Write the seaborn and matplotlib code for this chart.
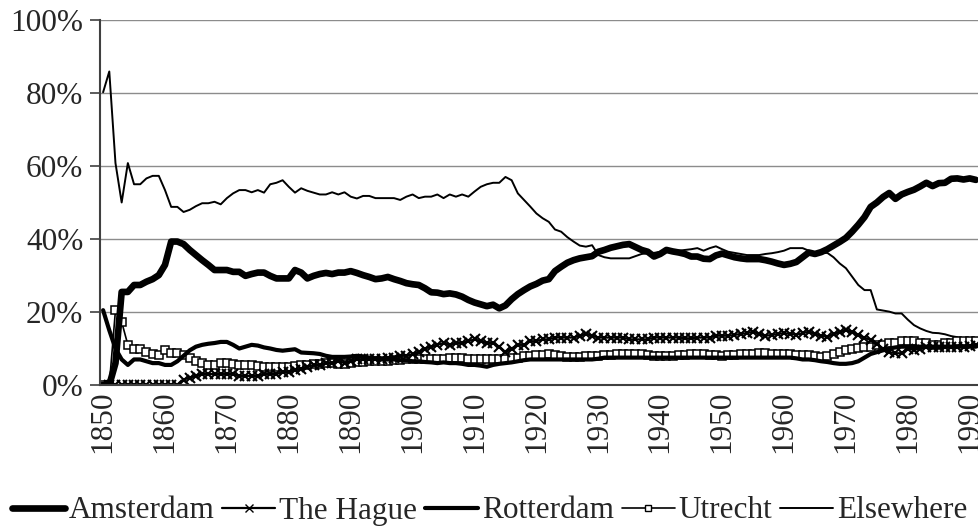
import numpy as np
import pandas as pd
import matplotlib
matplotlib.use("Agg")
import matplotlib.pyplot as plt
import seaborn as sns
from matplotlib.lines import Line2D

years = list(range(1850, 1992))

amsterdam = [0, 0, 6, 25.5, 25.5, 27.4, 27.4, 28.3, 29, 30.1,
             32.9, 39.3, 39.3, 38.6, 37, 35.6, 34.2, 32.9, 31.5, 31.5,
             31.5, 31, 31, 29.9, 30.4, 30.8, 30.8, 29.9, 29.2, 29.2,
             29.2, 31.5, 30.8, 29.2, 29.9, 30.4, 30.7, 30.4, 30.8, 30.8,
             31.2, 30.7, 30.1, 29.6, 29.0, 29.2, 29.6, 29.0, 28.5, 27.9,
             27.6, 27.4, 26.5, 25.4, 25.3, 24.9, 25.1, 24.8, 24.2, 23.3,
             22.6, 22.1, 21.6, 22.0, 21.0, 21.8, 23.5, 24.9, 26.0, 27.0,
             27.7, 28.6, 29.0, 31.2, 32.4, 33.5, 34.2, 34.7, 35.0, 35.3,
             36.5, 37.0, 37.6, 38.0, 38.4, 38.6, 37.8, 37.0, 36.5, 35.2,
             35.9, 37.0, 36.6, 36.3, 35.9, 35.2, 35.2, 34.6, 34.5, 35.5,
             36.0, 35.5, 35.0, 34.7, 34.5, 34.5, 34.5, 34.2, 33.8, 33.3,
             32.9, 33.2, 33.7, 35.0, 36.3, 35.9, 36.4, 37.2, 38.2, 39.2,
             40.3, 42.0, 43.9, 46.0, 48.8, 50.0, 51.5, 52.6, 51.0, 52.2,
             52.9, 53.5, 54.4, 55.4, 54.5, 55.3, 55.4, 56.5, 56.6, 56.3,
             56.6, 56.2]

the_hague = [0] * 13 + [
    1.5, 2, 2.5, 3, 3, 3, 3,
    3, 3, 2.5, 2.5, 2.5, 2.5, 3, 3, 3, 3.5,
    3.5, 4, 4.5, 5, 5.5, 5.5, 6, 6, 6.5, 6,
    6.5, 7, 7, 7, 7, 7, 7.5, 7.5, 8, 8,
    8.5, 9, 10, 10.5, 11, 11.5, 11, 11.5, 11.5, 12,
    12.5, 12, 11.5, 11.5, 10.5, 9, 10, 11, 11, 12,
    12, 12.5, 12.5, 13, 13, 13, 13, 13.5, 14, 13.5,
    13, 13, 13, 13, 13, 12.5, 12.5, 12.5, 12.5, 13,
    13, 13, 13, 13, 12.8, 12.8, 13, 13, 13, 13.5,
    13.5, 13.5, 13.7, 14, 14.2, 14.6, 14, 13.5, 13.7, 14,
    14.2, 14, 13.8, 14.2, 14.6, 14, 13.5, 13.2, 14, 14.5,
    15, 14.5, 13.7, 13, 12.3, 11.2, 10, 9, 8.7, 8.7,
    10, 9.6, 10, 10.3, 10.5, 10.5, 10.5, 10.5, 10.5, 10.5,
    10.7, 11]

rotterdam = [20.5, 15, 10, 7, 5.5, 7, 7, 6.5, 6, 6,
             5.5, 5.5, 6.5, 8, 9.5, 10.5, 11, 11.3, 11.5, 11.8,
             11.8, 11, 10, 10.5, 11, 10.8, 10.3, 10, 9.6, 9.4,
             9.6, 9.8, 8.9, 8.8, 8.7, 8.5, 8, 7.7, 7.7, 7.7,
             7.8, 8, 7.8, 7.5, 7.3, 7, 7, 7, 6.8, 6.8,
             6.5, 6.5, 6.3, 6.2, 6, 6.2, 6, 6, 5.8, 5.5,
             5.5, 5.3, 5, 5.5, 5.8, 6, 6.2, 6.5, 6.8, 7,
             7, 7, 7, 7, 7, 7, 7, 7, 7, 7,
             7.2, 7.5, 7.5, 7.5, 7.5, 7.5, 7.5, 7.5, 7.5, 7.5,
             7.5, 7.5, 7.5, 7.5, 7.5, 7.5, 7.5, 7.5, 7.5, 7.5,
             7.5, 7.5, 7.5, 7.5, 7.5, 7.5, 7.5, 7.5, 7.5, 7.5,
             7.5, 7.5, 7.3, 7, 7, 6.8, 6.5, 6.3, 6, 5.8,
             5.8, 6, 6.5, 7.5, 8.5, 9, 9.5, 10, 10.3, 10.5,
             10.5, 10.5, 10.5, 10.5, 10.5, 10.5, 10.5, 10.5, 10.5, 10.5,
             10.5, 10.5]

utrecht = [0, 0, 20.5, 17.3, 11, 10, 9.8, 9, 8.5, 8.2,
           9.6, 8.7, 8.7, 8.2, 7.5, 6.5, 6, 5.5, 5.5, 6,
           6, 5.8, 5.5, 5.5, 5.5, 5.2, 5, 5, 4.8, 4.8,
           5, 5.2, 5.5, 5.5, 5.8, 5.8, 6, 6, 5.8, 5.8,
           6, 6.2, 6.3, 6.5, 6.5, 6.5, 6.6, 6.8, 6.8, 7,
           7, 7, 7, 7, 7, 7.2, 7.5, 7.5, 7.3, 7,
           7, 7, 7, 7, 7, 7.2, 7.5, 7.5, 8, 8,
           8.3, 8.3, 8.5, 8.3, 8, 7.8, 7.8, 7.8, 8, 8,
           8, 8.2, 8.3, 8.5, 8.5, 8.5, 8.5, 8.5, 8.3, 8,
           8, 8, 8, 8.2, 8.3, 8.5, 8.5, 8.5, 8.3, 8.2,
           8, 8.2, 8.3, 8.5, 8.5, 8.5, 8.7, 8.7, 8.5, 8.5,
           8.5, 8.5, 8.3, 8.2, 8.2, 8, 7.8, 8, 8.5, 9,
           9.5, 10, 10.2, 10.5, 10.5, 11, 11, 11.5, 11.5, 12,
           12, 12, 11.5, 11.5, 11, 11, 11.5, 11.5, 12, 12,
           12, 12]

elsewhere = [80.2, 85.9, 60.8, 50, 60.8, 55, 55, 56.6, 57.3, 57.3,
             53.4, 48.8, 48.8, 47.4, 48, 49, 49.8, 49.8, 50.2, 49.5,
             51.2, 52.5, 53.4, 53.4, 52.8, 53.4, 52.7, 55, 55.4, 56.1,
             54.3, 52.7, 53.9, 53.2, 52.7, 52.2, 52.2, 52.8, 52.2, 52.8,
             51.6, 51.1, 51.8, 51.8, 51.2, 51.2, 51.2, 51.2, 50.7, 51.6,
             52.2, 51.2, 51.6, 51.6, 52.2, 51.2, 52.2, 51.6, 52.2, 51.6,
             53, 54.3, 55, 55.4, 55.4, 57, 56.1, 52.5, 50.7, 48.9,
             47, 45.7, 44.7, 42.6, 42, 40.5, 39.3, 38.2, 37.9, 38.3,
             35.6, 35, 34.7, 34.7, 34.7, 34.7, 35.3, 35.9, 36.1, 36.2,
             36.5, 36.8, 37, 36.8, 37, 37.2, 37.5, 36.8, 37.5, 38,
             37.2, 36.5, 36.2, 35.9, 35.6, 35.6, 35.6, 35.9, 36.1, 36.4,
             36.8, 37.5, 37.5, 37.5, 36.8, 36.1, 36.1, 36.2, 35, 33.3,
             32, 29.7, 27.4, 26, 26, 20.7, 20.4, 20.1, 19.6, 19.6,
             17.9, 16.4, 15.5, 14.8, 14.3, 14.2, 13.9, 13.4, 13.1, 12.5,
             12, 11.8]

series_names = ["Amsterdam", "The Hague", "Rotterdam", "Utrecht", "Elsewhere"]
y_ticks = [0, 20, 40, 60, 80, 100]
y_tick_labels = ["0%", "20%", "40%", "60%", "80%", "100%"]
x_ticks = list(range(1850, 1991, 10))

sns.set_theme(style="white")
plt.rcParams["font.family"] = ["Liberation Serif", "DejaVu Serif"]

FS = 22.5

fig = plt.figure(figsize=(9.79, 5.30), dpi=100)
ax = fig.add_axes([100 / 979, 1 - 385 / 530, 879 / 979, 365 / 530])

styles = {
    "Amsterdam": dict(lw=4.8, marker=None),
    "The Hague": dict(lw=1.6, marker="x", ms=7, mew=1.5),
    "Rotterdam": dict(lw=3.0, marker=None),
    "Utrecht": dict(lw=1.2, marker="s", ms=6, mew=1.1, mfc="white"),
    "Elsewhere": dict(lw=1.4, marker=None),
}
data = dict(zip(series_names, [amsterdam, the_hague, rotterdam, utrecht, elsewhere]))

for gy in y_ticks[1:]:
    ax.axhline(gy, color="#8c8c8c", lw=1.0, zorder=0)

draw_order = ["Elsewhere", "Utrecht", "The Hague", "Rotterdam", "Amsterdam"]
for name in draw_order:
    st = styles[name]
    kw = dict(color="black", linewidth=st["lw"], solid_joinstyle="round")
    if st.get("marker"):
        kw.update(marker=st["marker"], markersize=st["ms"], markeredgewidth=st["mew"],
                  markeredgecolor="black")
        if "mfc" in st:
            kw["markerfacecolor"] = st["mfc"]
    sns.lineplot(x=years, y=data[name], ax=ax, **kw)

ax.set_xlim(1849.5, 1991.5)
ax.set_ylim(0, 100)
ax.set_yticks(y_ticks)
ax.set_yticklabels(y_tick_labels, fontsize=FS)
ax.set_xticks(x_ticks)
ax.set_xticklabels([str(x) for x in x_ticks], rotation=90, fontsize=FS)
ax.tick_params(axis="y", length=7, width=1.2, color="#404040", pad=5, left=True)
ax.tick_params(axis="x", length=0, pad=4, bottom=True)
for s in ["top", "right"]:
    ax.spines[s].set_visible(False)
for s in ["left", "bottom"]:
    ax.spines[s].set_color("#404040")
    ax.spines[s].set_linewidth(1.5)

handles = []
for name in series_names:
    st = styles[name]
    kw = dict(color="black", linewidth=st["lw"])
    if st.get("marker"):
        kw.update(marker=st["marker"], markersize=st["ms"] * 0.8, markeredgewidth=1,
                  markerfacecolor=st.get("mfc", "black"))
    handles.append(Line2D([], [], **kw))
fig.legend(handles, series_names, loc="center", bbox_to_anchor=(0.5, 1 - 511 / 530),
           ncol=5, frameon=False, fontsize=FS, handlelength=1.7, handletextpad=0.12,
           columnspacing=0.25, markerscale=1, borderaxespad=0, borderpad=0)

fig.savefig("out.png", dpi=100)
